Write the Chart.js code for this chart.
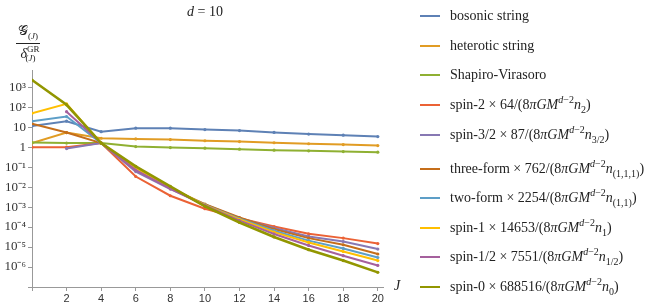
<!DOCTYPE html>
<html>
<head>
<meta charset="utf-8">
<script src="https://cdn.jsdelivr.net/npm/chart.js@4/dist/chart.umd.min.js"></script>
<style>
  body { margin: 0; background: #fff; }
  #wrap { position: relative; width: 664px; height: 308px; font-family: "Liberation Serif", serif; color: #222; }
  #wrap canvas { position: absolute; left: 0; top: 0; }
  .ov { position: absolute; white-space: nowrap; line-height: 1; }
  #title { left: 205px; top: 5px; font-size: 14px; transform: translateX(-50%); }
  #jlab { left: 394px; top: 279px; font-size: 14px; font-style: italic; }
  #ylab { left: 16px; top: 24px; font-size: 14px; text-align: center; }
  #ylab .num { display: block; padding: 0 2px 2px; border-bottom: 1px solid #222; }
  #ylab .den { display: block; padding-top: 1px; }
  #ylab sub, #ylab sup { font-size: 9px; }
  .row { position: absolute; left: 420px; height: 16px; display: flex; align-items: center; font-size: 14px; white-space: nowrap; }
  .sw { width: 20px; height: 2px; margin-right: 10px; }
  .row sup, .row sub { font-size: 10px; line-height: 0; }
</style>
</head>
<body>
<div id="wrap">
  <canvas id="chart" width="664" height="308"></canvas>
  <div class="ov" id="title"><i>d</i> = 10</div>
  <div class="ov" id="ylab"><span class="num">𝒢<sub>(<i>J</i>)</sub></span><span class="den"><i>δ</i><sup>GR</sup><sub style="margin-left:-14px">(<i>J</i>)</sub></span></div>
  <div class="ov" id="jlab">J</div>
  <div id="legend"></div>
</div>
<script>
const J = [0, 2, 4, 6, 8, 10, 12, 14, 16, 18, 20];

const bosonic = [11.5, 20, 6.0, 8.9, 8.9, 7.6, 6.8, 5.5, 4.5, 4.0, 3.4];
const heterotic = [1.6, 5.4, 2.8, 2.6, 2.4, 2.1, 1.9, 1.66, 1.48, 1.35, 1.2];
const shapiroVirasoro = [1.7, 1.6, 1.6, 1.07, 0.95, 0.89, 0.79, 0.71, 0.66, 0.6, 0.56];
const spin2 = [1.0, 1.0, 1.6, 0.034, 3.7e-3, 8.3e-4, 2.8e-4, 1.07e-4, 4.6e-5, 2.8e-5, 1.5e-5];
const spin3half = [null, 0.85, 1.6, 0.06, 8.0e-3, 1.35e-3, 2.8e-4, 8.9e-5, 3.4e-5, 1.9e-5, 7.9e-6];
const threeForm = [15, 5.4, 1.6, 0.076, 8.9e-3, 1.4e-3, 3.0e-4, 7.9e-5, 2.8e-5, 1.3e-5, 4.5e-6];
const twoForm = [20, 34, 1.6, 0.079, 9.1e-3, 1.3e-3, 2.6e-4, 6.6e-5, 2.1e-5, 8.5e-6, 3.0e-6];
const spin1 = [50, 148, 1.6, 0.089, 1.0e-2, 1.26e-3, 2.4e-4, 5.6e-5, 1.7e-5, 6.0e-6, 2.1e-6];
const spin1half = [null, 60, 1.6, 0.071, 8.5e-3, 1.2e-3, 2.1e-4, 4.5e-5, 1.2e-5, 3.7e-6, 1.2e-6];
const spin0 = [2300, 132, 1.6, 0.11, 1.1e-2, 1.1e-3, 1.7e-4, 3.2e-5, 7.4e-6, 2.1e-6, 5.4e-7];

const yTicks = [1e-7, 1e-6, 1e-5, 1e-4, 1e-3, 1e-2, 1e-1, 1, 10, 100, 1000];
const yTickLabels = ['', '10⁻⁶', '10⁻⁵', '10⁻⁴', '10⁻³', '10⁻²', '10⁻¹', '1', '10', '10²', '10³'];

const seriesValues = [bosonic, heterotic, shapiroVirasoro, spin2, spin3half, threeForm, twoForm, spin1, spin1half, spin0];
const seriesNames = [
  'bosonic string',
  'heterotic string',
  'Shapiro-Virasoro',
  'spin-2 × 64/(8<i>πGM</i><sup><i>d</i>−2</sup><i>n</i><sub>2</sub>)',
  'spin-3/2 × 87/(8<i>πGM</i><sup><i>d</i>−2</sup><i>n</i><sub>3/2</sub>)',
  'three-form × 762/(8<i>πGM</i><sup><i>d</i>−2</sup><i>n</i><sub>(1,1,1)</sub>)',
  'two-form × 2254/(8<i>πGM</i><sup><i>d</i>−2</sup><i>n</i><sub>(1,1)</sub>)',
  'spin-1 × 14653/(8<i>πGM</i><sup><i>d</i>−2</sup><i>n</i><sub>1</sub>)',
  'spin-1/2 × 7551/(8<i>πGM</i><sup><i>d</i>−2</sup><i>n</i><sub>1/2</sub>)',
  'spin-0 × 688516/(8<i>πGM</i><sup><i>d</i>−2</sup><i>n</i><sub>0</sub>)'
];
const colors = ['#5E81B5', '#E19C24', '#8FB032', '#EB6235', '#8778B3', '#C56E1A', '#5D9EC7', '#FFBF00', '#A5609D', '#929600'];
const legendRowY = [16, 46, 75, 105, 135, 169, 198, 227.5, 257, 287];

// legend (html so the math can be set properly)
const legend = document.getElementById('legend');
seriesNames.forEach((name, i) => {
  const row = document.createElement('div');
  row.className = 'row';
  row.style.top = (legendRowY[i] - 8) + 'px';
  row.innerHTML = `<span class="sw" style="background:${colors[i]}"></span><span>${name}</span>`;
  legend.appendChild(row);
});

const datasets = seriesValues.map((vals, i) => ({
  data: vals.map((v, k) => ({ x: J[k], y: v })),
  borderColor: colors[i],
  backgroundColor: colors[i],
  borderWidth: i === 9 ? 2.6 : 2,
  pointRadius: 1.6,
  pointBorderWidth: 0,
  order: 9 - i
}));

new Chart(document.getElementById('chart'), {
  type: 'line',
  data: { datasets },
  options: {
    responsive: false,
    animation: false,
    layout: { padding: { left: 0, right: 281, top: 70, bottom: 0 } },
    plugins: { legend: { display: false }, tooltip: { enabled: false } },
    scales: {
      x: {
        type: 'linear',
        min: 0,
        max: 20.3,
        afterBuildTicks: (s) => { s.ticks = J.map(v => ({ value: v })); },
        afterFit: (s) => { s.height = 21; },
        grid: { drawOnChartArea: false, tickLength: 4, color: '#999' },
        border: { color: '#999' },
        ticks: {
          padding: 1,
          color: '#333',
          font: { family: 'Liberation Sans', size: 11 },
          maxRotation: 0,
          callback: (v) => (v === 0 ? '' : v)
        }
      },
      y: {
        type: 'logarithmic',
        min: 1e-7,
        max: 7300,
        afterBuildTicks: (s) => { s.ticks = yTicks.map(v => ({ value: v })); },
        afterFit: (s) => { s.width = 32; },
        grid: { drawOnChartArea: false, tickLength: 4, color: '#999' },
        border: { color: '#999' },
        ticks: {
          padding: 2,
          color: '#333',
          font: { family: 'Liberation Serif', size: 13 },
          callback: (v) => yTickLabels[yTicks.findIndex(t => Math.abs(Math.log10(t) - Math.log10(v)) < 0.01)]
        }
      }
    }
  }
});
</script>
</body>
</html>
